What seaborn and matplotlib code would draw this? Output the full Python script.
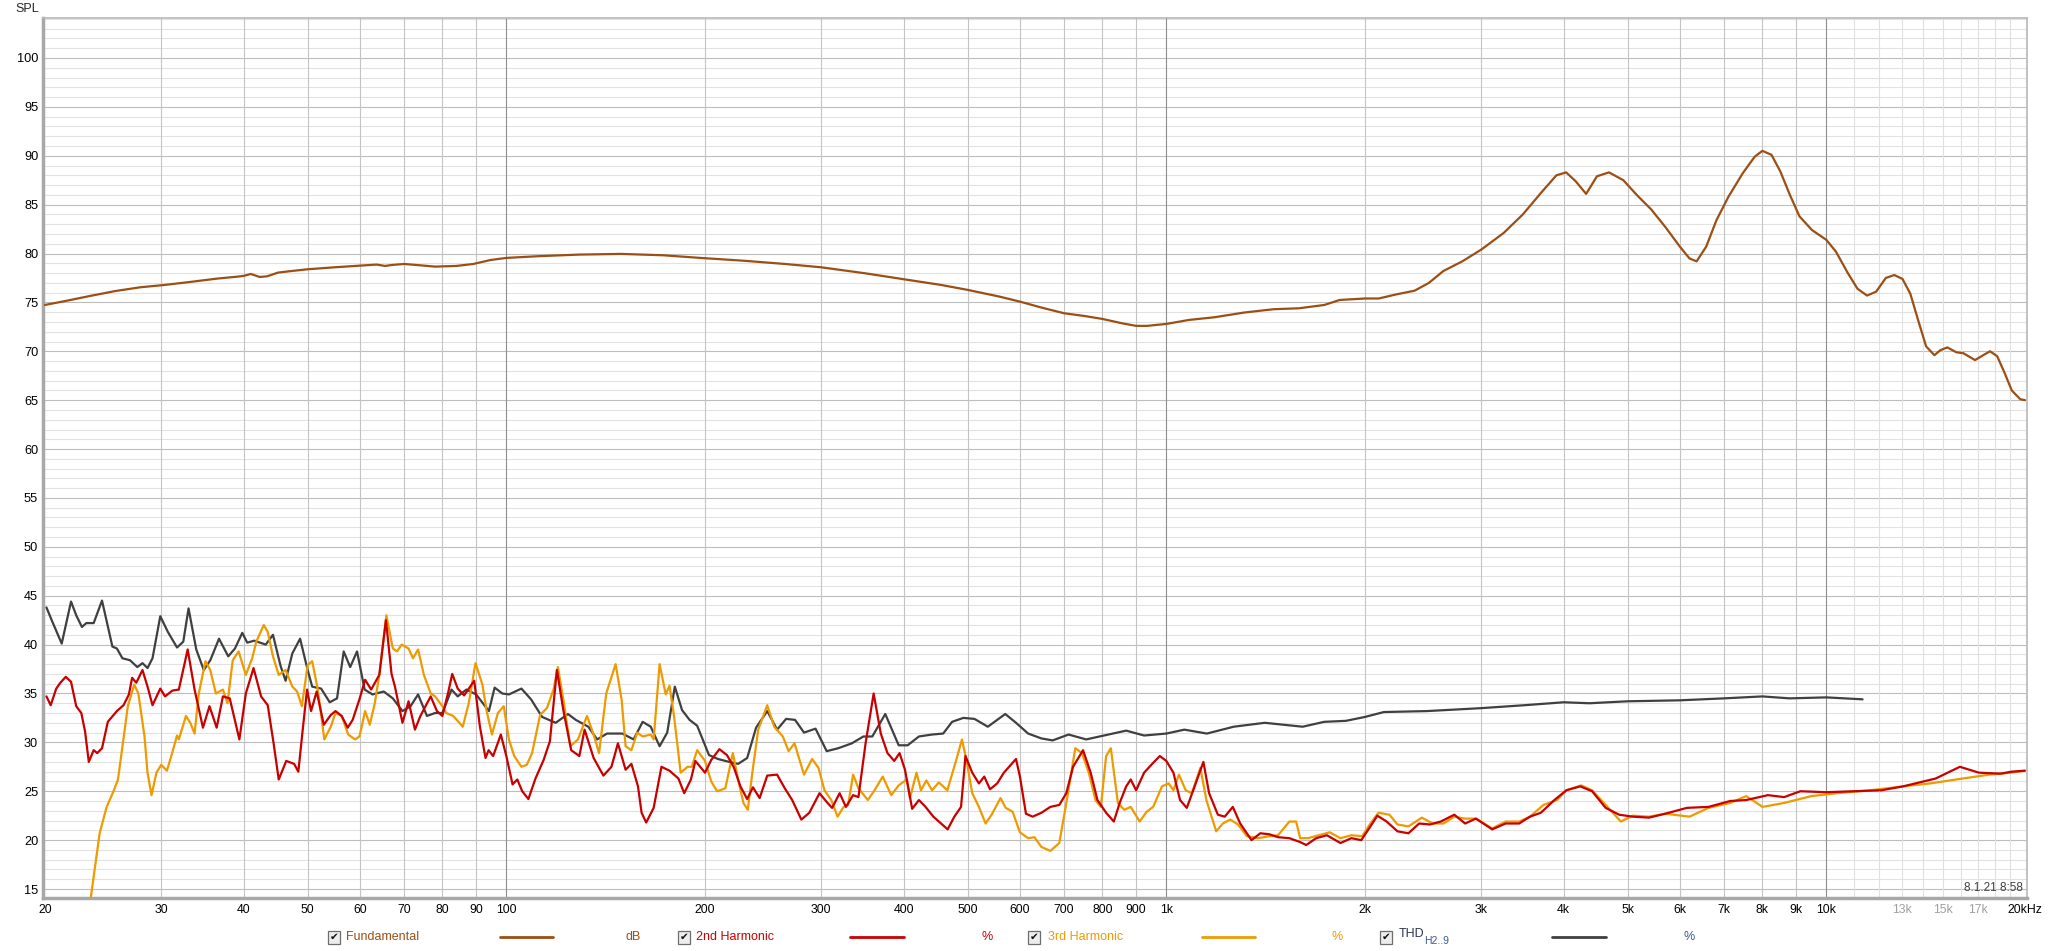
import numpy as np
import pandas as pd
import matplotlib
matplotlib.use("Agg")
import matplotlib.pyplot as plt
from matplotlib.patches import Rectangle
from matplotlib.lines import Line2D
from matplotlib.ticker import NullLocator
import seaborn as sns

# ---- data (Hz, dB / %-scale) ----
fund_freq = [20, 21.5, 23.4, 25.6, 27.9, 30, 32.9, 36.4, 39.2, 40,
             41.0, 42.3, 43.4, 45.1, 47.4, 50, 54.9, 60, 63.6, 65.5,
             67.1, 70, 73.9, 78.0, 84.0, 89.1, 94.7, 100, 111.3, 128.9,
             149.3, 172.9, 196.9, 228.2, 264.5, 300, 349.5, 400, 455.4, 500,
             559, 600, 647, 700, 750, 800, 856, 900, 935, 1000,
             1083, 1183, 1311, 1452, 1589, 1736, 1831, 2000, 2098, 2224,
             2378, 2500, 2627, 2808, 3000, 3244, 3469, 3706, 3900, 4034,
             4170, 4326, 4492, 4685, 4925, 5177, 5430, 5705, 6000, 6203,
             6360, 6576, 6815, 7106, 7469, 7788, 8000, 8258, 8517, 8806,
             9106, 9513, 10000, 10339, 10779, 11148, 11524, 11900, 12306, 12677,
             13044, 13403, 13815, 14165, 14582, 14876, 15252, 15736, 16134, 16802,
             17286, 17702, 18150, 18623, 19095, 19670, 20000]
fund_db = [74.74, 75.15, 75.66, 76.17, 76.55, 76.75, 77.06, 77.43, 77.64, 77.71,
           77.91, 77.60, 77.67, 78.05, 78.22, 78.39, 78.59, 78.76, 78.87, 78.73,
           78.83, 78.93, 78.80, 78.66, 78.73, 78.93, 79.34, 79.55, 79.72, 79.89,
           79.96, 79.82, 79.55, 79.27, 78.93, 78.59, 77.98, 77.37, 76.79, 76.28,
           75.59, 75.08, 74.47, 73.89, 73.62, 73.31, 72.87, 72.60, 72.60, 72.80,
           73.21, 73.48, 73.96, 74.30, 74.40, 74.74, 75.25, 75.4, 75.4, 75.8,
           76.2, 77.0, 78.2, 79.2, 80.4, 82.1, 84.0, 86.3, 88.0, 88.3,
           87.4, 86.1, 87.9, 88.3, 87.5, 85.9, 84.5, 82.7, 80.7, 79.5,
           79.2, 80.7, 83.4, 85.8, 88.2, 89.9, 90.5, 90.1, 88.4, 86.0,
           83.8, 82.4, 81.4, 80.2, 78.0, 76.4, 75.7, 76.1, 77.5, 77.8,
           77.4, 75.9, 72.9, 70.5, 69.6, 70.1, 70.4, 69.9, 69.8, 69.1,
           69.6, 70.0, 69.5, 67.8, 66.0, 65.1, 65.0]

h2_freq = [20.1, 20.4, 20.8, 21.1, 21.5, 21.9, 22.3, 22.7, 23.0, 23.3,
           23.7, 24.0, 24.4, 24.9, 25.7, 26.3, 26.8, 27.1, 27.5, 28.1,
           28.6, 29.1, 29.9, 30.4, 31.2, 31.9, 32.9, 33.7, 34.7, 35.5,
           36.4, 37.2, 38.1, 39.4, 40.3, 41.4, 42.5, 43.5, 44.4, 45.2,
           46.4, 47.7, 48.4, 49.2, 49.9, 50.6, 51.6, 52.9, 54.2, 55.1,
           56.3, 57.5, 58.5, 59.9, 61.1, 62.4, 64.2, 65.7, 67.0, 67.8,
           69.6, 71.1, 72.7, 74.1, 76.8, 78.5, 80.0, 81.7, 82.8, 84.4,
           86.3, 89.4, 91.2, 93.0, 94.0, 95.5, 98.1, 100, 102.2, 103.9,
           105.7, 108.0, 110.7, 113.9, 116.4, 119.3, 122.0, 125.4, 129.0, 131.4,
           135.6, 140.3, 144.3, 147.6, 151.6, 154.7, 158.3, 160.3, 162.9, 167.2,
           171.8, 176.7, 182.3, 186.0, 190.4, 193.4, 200, 204.4, 210.3, 215.9,
           221, 226.3, 231.7, 236.4, 242.0, 248.5, 257.2, 264.2, 271.1, 279.9,
           287.8, 298.2, 306.7, 311.6, 319.9, 327.0, 335.3, 341.6, 350.2, 360.2,
           369.3, 378.0, 387.0, 394.3, 401.8, 412, 421.8, 431.7, 443.6, 455.6,
           466.3, 477.3, 488.6, 496.2, 508.1, 520, 529.8, 540.6, 554.3, 567.4,
           591.9, 600, 612.8, 627.2, 646.8, 667.3, 688.4, 705.5, 722.2, 747.8,
           768, 786.3, 810.6, 832.6, 849.8, 869.4, 883.1, 900, 925.4, 955,
           977.6, 1000, 1025, 1049, 1074, 1104, 1138, 1161, 1197, 1226,
           1261, 1294, 1346, 1388, 1432, 1477, 1536, 1595, 1629, 1687,
           1751, 1836, 1907, 1974, 2038, 2088, 2157, 2240, 2327, 2416,
           2508, 2605, 2731, 2836, 2945, 3117, 3267, 3425, 3556, 3694,
           3872, 4038, 4238, 4417, 4631, 4853, 5090, 5386, 5700, 6148,
           6631, 7149, 7563, 8157, 8631, 9134, 10000, 11031, 12122, 13074,
           14641, 15935, 17026, 18366, 19070, 19990]
h2_lvl = [34.7, 33.8, 35.5, 36.1, 36.7, 36.2, 33.7, 33.0, 31.1, 28.0,
          29.2, 28.9, 29.4, 32.1, 33.2, 33.8, 34.9, 36.6, 36.1, 37.4,
          35.7, 33.8, 35.5, 34.7, 35.3, 35.4, 39.5, 35.4, 31.5, 33.7,
          31.5, 34.7, 34.5, 30.3, 35.0, 37.6, 34.7, 33.8, 29.9, 26.2,
          28.1, 27.8, 27.0, 31.6, 35.4, 33.2, 35.2, 31.8, 32.8, 33.2,
          32.7, 31.5, 32.3, 34.4, 36.4, 35.4, 36.9, 42.5, 37.0, 35.7,
          32.0, 34.2, 31.3, 32.7, 34.7, 33.2, 32.7, 35.2, 37.0, 35.5,
          34.8, 36.3, 31.6, 28.4, 29.2, 28.6, 30.8, 28.6, 25.7, 26.2,
          25.0, 24.2, 26.3, 28.2, 30.1, 37.4, 33.3, 29.2, 28.6, 31.3,
          28.4, 26.6, 27.5, 29.9, 27.2, 27.8, 25.5, 22.8, 21.8, 23.3,
          27.5, 27.1, 26.3, 24.8, 26.2, 28.1, 26.9, 28.2, 29.3, 28.7,
          27.5, 25.5, 24.2, 25.4, 24.3, 26.6, 26.7, 25.3, 24.1, 22.1,
          22.8, 24.8, 23.8, 23.3, 24.8, 23.4, 24.6, 24.4, 29.9, 35.0,
          30.9, 28.9, 28.1, 28.9, 27.2, 23.2, 24.1, 23.4, 22.4, 21.7,
          21.1, 22.4, 23.4, 28.6, 26.9, 25.8, 26.5, 25.2, 25.8, 26.9,
          28.3, 26.5, 22.7, 22.4, 22.8, 23.4, 23.6, 24.8, 27.5, 29.2,
          26.9, 24.1, 22.8, 21.9, 23.8, 25.5, 26.2, 25.1, 26.9, 27.9,
          28.6, 28.1, 26.9, 24.1, 23.3, 25.5, 28.0, 24.8, 22.6, 22.4,
          23.4, 21.7, 20.0, 20.7, 20.6, 20.3, 20.2, 19.8, 19.5, 20.2,
          20.5, 19.7, 20.2, 20.0, 21.4, 22.5, 21.9, 20.9, 20.7, 21.7,
          21.6, 21.9, 22.6, 21.7, 22.2, 21.1, 21.7, 21.7, 22.4, 22.8,
          24.1, 25.1, 25.5, 25.0, 23.3, 22.6, 22.4, 22.3, 22.7, 23.3,
          23.4, 24.0, 24.1, 24.6, 24.4, 25.0, 24.9, 25.0, 25.1, 25.5,
          26.3, 27.5, 26.9, 26.8, 27.0, 27.1]

h3_freq = [23.45, 23.9, 24.2, 24.8, 25.4, 25.8, 26.2, 26.7, 27.3, 27.7,
           28.3, 28.6, 29.0, 29.5, 30.0, 30.6, 31.1, 31.7, 31.9, 32.7,
           33.2, 33.7, 34.2, 35.0, 35.6, 36.3, 37.2, 37.8, 38.5, 39.3,
           40.3, 41.2, 41.8, 42.9, 43.5, 44.3, 45.2, 46.3, 47.4, 48.2,
           49.0, 50.0, 50.8, 51.8, 53.0, 54.2, 55.1, 56.3, 57.6, 59.0,
           59.9, 61.1, 62.1, 63.2, 64.3, 65.8, 67.3, 68.3, 69.4, 71.1,
           72.2, 73.5, 75.0, 76.8, 78.0, 80.0, 81.1, 83.1, 85.9, 87.7,
           89.8, 92.0, 93.3, 95.1, 97.1, 99.1, 100.9, 102.8, 105.4, 107.4,
           109.4, 112.5, 115.2, 117.9, 119.7, 122.0, 125.0, 128.4, 132.5, 135.6,
           138.2, 141.7, 146.4, 149.5, 151.6, 154.7, 157.9, 160.9, 165.5, 167.2,
           170.7, 174.4, 176.7, 179.5, 183.7, 188.2, 191.0, 194.6, 200.0, 204.4,
           208.6, 214.7, 220.4, 224.5, 228.7, 232.2, 235.9, 240.8, 248.5, 254.6,
           262.4, 267.7, 273.3, 282.5, 290.6, 297.1, 303.4, 310.7, 317.6, 324.4,
           329.5, 335.3, 341.6, 353.0, 361.3, 371.8, 383.0, 393.1, 404.3, 408.8,
           418.3, 424.8, 432.9, 441.6, 452.1, 465.8, 481.0, 490.2, 497.9, 508.1,
           520.0, 532.3, 543.6, 560.7, 571.0, 585.0, 600.0, 617.5, 631.0, 646.8,
           667.3, 688.4, 705.5, 727.9, 745.0, 763.0, 781.0, 795.7, 810.6, 824.0,
           844.5, 863.6, 883.1, 911.3, 933.6, 955.0, 985.0, 1008, 1025, 1045,
           1070, 1093, 1126, 1150, 1190, 1218, 1250, 1284, 1325, 1378,
           1432, 1477, 1536, 1573, 1595, 1640, 1703, 1768, 1836, 1907,
           1981, 2038, 2096, 2178, 2240, 2327, 2438, 2533, 2630, 2731,
           2836, 2945, 3117, 3267, 3425, 3556, 3727, 3909, 4038, 4254,
           4417, 4631, 4883, 5090, 5386, 5700, 6206, 6631, 7149, 7563,
           8005, 8631, 9486, 10384, 11674, 13074, 14368, 16086, 17680, 19070,
           19990]
h3_lvl = [14.0, 18.0, 20.7, 23.4, 25.0, 26.2, 29.6, 33.7, 35.9, 35.0,
          30.6, 26.9, 24.6, 26.9, 27.7, 27.1, 28.7, 30.7, 30.3, 32.7,
          32.0, 30.9, 35.0, 38.3, 37.4, 35.0, 35.4, 34.0, 38.4, 39.3,
          36.9, 38.6, 40.3, 42.0, 41.3, 38.8, 36.9, 37.4, 35.7, 35.2,
          33.7, 37.9, 38.3, 35.4, 30.3, 31.6, 33.0, 32.7, 30.8, 30.3,
          30.6, 33.2, 31.8, 34.0, 37.2, 43.0, 39.6, 39.3, 40.0, 39.6,
          38.6, 39.5, 36.9, 35.0, 34.7, 33.7, 33.0, 32.7, 31.6, 34.0,
          38.1, 35.9, 33.3, 30.8, 33.0, 33.7, 30.3, 28.6, 27.5, 27.7,
          28.9, 32.8, 33.5, 35.4, 37.7, 34.4, 29.6, 30.3, 32.7, 30.8,
          28.9, 35.0, 38.0, 34.4, 29.6, 29.2, 31.0, 30.6, 30.8, 30.3,
          38.0, 34.9, 35.8, 32.7, 26.9, 27.5, 27.5, 29.2, 28.1, 26.0,
          25.0, 25.3, 28.9, 26.2, 23.8, 23.1, 26.9, 31.3, 33.8, 31.6,
          30.6, 29.1, 29.9, 26.7, 28.3, 27.4, 25.1, 24.1, 22.4, 23.4,
          23.6, 26.7, 25.3, 24.1, 25.1, 26.5, 24.6, 25.6, 26.2, 24.3,
          26.9, 25.1, 26.1, 25.1, 25.9, 25.1, 28.3, 30.3, 28.2, 24.8,
          23.4, 21.7, 22.6, 24.3, 23.3, 22.9, 20.8, 20.2, 20.3, 19.3,
          18.9, 19.7, 23.8, 29.4, 28.9, 26.9, 24.1, 23.4, 28.6, 29.4,
          23.8, 23.1, 23.4, 21.9, 22.9, 23.4, 25.5, 25.8, 25.1, 26.7,
          25.1, 24.8, 27.4, 24.1, 20.9, 21.7, 22.1, 21.6, 20.4, 20.2,
          20.4, 20.5, 21.9, 21.9, 20.2, 20.2, 20.5, 20.8, 20.2, 20.5,
          20.4, 21.7, 22.8, 22.6, 21.6, 21.4, 22.3, 21.7, 21.7, 22.4,
          22.2, 22.2, 21.2, 21.9, 21.9, 22.4, 23.6, 24.1, 25.1, 25.6,
          25.1, 23.6, 21.9, 22.5, 22.4, 22.7, 22.4, 23.3, 23.8, 24.5,
          23.4, 23.8, 24.5, 24.8, 25.1, 25.5, 25.8, 26.3, 26.7, 26.9,
          27.1]

thd_freq = [20.1, 20.5, 21.2, 21.9, 22.3, 22.75, 23.1, 23.7, 24.4, 25.3,
            25.7, 26.2, 26.9, 27.6, 28.1, 28.6, 29.1, 29.9, 30.7, 31.7,
            32.4, 33.0, 33.9, 34.8, 35.6, 36.7, 37.9, 38.8, 39.8, 40.5,
            41.5, 43.2, 44.3, 45.5, 46.3, 47.4, 48.7, 50.0, 50.8, 52.4,
            54.0, 55.4, 56.7, 58.0, 59.4, 61.0, 62.7, 65.2, 67.3, 69.6,
            71.6, 73.5, 75.8, 78.0, 80.0, 82.6, 84.4, 87.0, 90.0, 94.1,
            96.0, 98.6, 100.9, 105.4, 109.0, 113.3, 118.8, 124.0, 127.4, 133.1,
            137.3, 142.1, 149.9, 155.9, 160.9, 165.5, 170.7, 175.3, 180.0, 184.6,
            189.5, 194.6, 202.8, 209.2, 217.6, 224.5, 231.7, 239, 248.5, 257.2,
            265.4, 273.8, 282.5, 294.1, 305.8, 318.4, 333.8, 347.5, 358.5, 375.1,
            393.1, 405.6, 421.8, 441.6, 459.1, 473.6, 492.5, 512, 536.5, 570.1,
            591.9, 617.5, 646.8, 672.6, 711, 756.1, 804.5, 869.4, 925.4, 1000,
            1065, 1152, 1265, 1410, 1609, 1735, 1871, 2000, 2136, 2485,
            3000, 3490, 4000, 4376, 5000, 6000, 7000, 8000, 8797, 10000,
            11348]
thd_lvl = [43.8, 42.4, 40.1, 44.4, 43.0, 41.8, 42.2, 42.2, 44.5, 39.8,
           39.6, 38.6, 38.4, 37.7, 38.1, 37.6, 38.6, 42.9, 41.3, 39.7,
           40.3, 43.7, 39.5, 37.4, 38.4, 40.6, 38.8, 39.6, 41.2, 40.2,
           40.4, 40.0, 41.0, 37.8, 36.3, 39.1, 40.6, 37.4, 35.7, 35.5,
           34.1, 34.5, 39.3, 37.7, 39.3, 35.4, 34.9, 35.2, 34.5, 33.2,
           33.7, 34.9, 32.7, 33.0, 33.0, 35.4, 34.7, 35.4, 34.9, 33.2,
           35.6, 35.0, 34.9, 35.5, 34.4, 32.6, 32.0, 32.9, 32.3, 31.6,
           30.3, 30.9, 30.9, 30.3, 32.1, 31.6, 29.6, 31.0, 35.7, 33.3,
           32.3, 31.7, 28.7, 28.3, 28.0, 27.8, 28.4, 31.5, 33.2, 31.3,
           32.4, 32.3, 31.0, 31.4, 29.1, 29.4, 29.9, 30.6, 30.6, 32.9,
           29.7, 29.7, 30.6, 30.8, 30.9, 32.1, 32.5, 32.4, 31.6, 32.9,
           32.0, 30.9, 30.4, 30.2, 30.8, 30.3, 30.7, 31.2, 30.7, 30.9,
           31.3, 30.9, 31.6, 32.0, 31.6, 32.1, 32.2, 32.6, 33.1, 33.2,
           33.5, 33.8, 34.1, 34.0, 34.2, 34.3, 34.5, 34.7, 34.5, 34.6,
           34.4]

xtick_vals = [20, 30, 40, 50, 60, 70, 80, 90, 100, 200, 300, 400, 500, 600, 700, 800, 900,
              1000, 2000, 3000, 4000, 5000, 6000, 7000, 8000, 9000, 10000, 13000, 15000, 17000, 20000]
xtick_labels = ["20", "30", "40", "50", "60", "70", "80", "90", "100", "200", "300", "400", "500",
                "600", "700", "800", "900", "1k", "2k", "3k", "4k", "5k", "6k", "7k", "8k", "9k",
                "10k", "13k", "15k", "17k", "20kHz"]
ytick_vals = list(range(15, 101, 5))

C_FUND = "#9C4F14"
C_H2 = "#C80000"
C_H3 = "#EE9A00"
C_THD = "#404040"

# ---- long table for seaborn ----
df = pd.concat([
    pd.DataFrame({"freq": thd_freq, "level": thd_lvl, "trace": "THD"}),
    pd.DataFrame({"freq": h3_freq, "level": h3_lvl, "trace": "3rd Harmonic"}),
    pd.DataFrame({"freq": h2_freq, "level": h2_lvl, "trace": "2nd Harmonic"}),
    pd.DataFrame({"freq": fund_freq, "level": fund_db, "trace": "Fundamental"}),
], ignore_index=True)

sns.set_style("white")
plt.rcParams["font.family"] = ["Liberation Sans", "DejaVu Sans"]
plt.rcParams["lines.solid_joinstyle"] = "round"
plt.rcParams["lines.solid_capstyle"] = "round"

W, H = 2048, 951
fig = plt.figure(figsize=(W / 100, H / 100), dpi=100)
ax = fig.add_axes([43 / W, 1 - 898 / H, (2027 - 43) / W, (898 - 18) / H])
ax.set_xscale("log")

# grid
for v in np.arange(15, 105, 1):
    ax.axhline(v, color="#BDBDBD" if v % 5 == 0 else "#E2E2E2", lw=0.8, zorder=0)
for f in [30, 40, 50, 60, 70, 80, 90, 200, 300, 400, 500, 600, 700, 800, 900,
          2000, 3000, 4000, 5000, 6000, 7000, 8000, 9000]:
    ax.axvline(f, color="#C4C4C4", lw=0.8, zorder=0)
for f in [100, 1000, 10000]:
    ax.axvline(f, color="#8E8E8E", lw=0.8, zorder=0)
for f in range(11000, 20000, 1000):
    ax.axvline(f, color="#E0E0E0", lw=0.8, zorder=0)

palette = {"THD": C_THD, "3rd Harmonic": C_H3, "2nd Harmonic": C_H2, "Fundamental": C_FUND}
sns.lineplot(data=df, x="freq", y="level", hue="trace", palette=palette,
             hue_order=["THD", "3rd Harmonic", "2nd Harmonic", "Fundamental"],
             estimator=None, sort=False, linewidth=1.6, legend=False, ax=ax, zorder=3)

ax.set_xlim(19.86, 20140)
ax.set_ylim(14.08, 104.09)
ax.minorticks_off()
ax.xaxis.set_minor_locator(NullLocator())
ax.set_xticks(xtick_vals)
ax.set_xticklabels(xtick_labels)
ax.set_yticks(ytick_vals)
ax.set_yticklabels([str(v) for v in ytick_vals])
ax.tick_params(axis="both", length=0, colors="black")
ax.tick_params(axis="x", pad=4, labelsize=8.8)
ax.tick_params(axis="y", pad=3.5, labelsize=9.2)
for lab in ax.get_xticklabels():
    if lab.get_text() in ("13k", "15k", "17k"):
        lab.set_color("#A0A0A0")
ax.set_xlabel("")
ax.set_ylabel("")

for side in ("left", "bottom"):
    ax.spines[side].set_color("#A8A8A8")
    ax.spines[side].set_linewidth(2.5)
for side in ("top", "right"):
    ax.spines[side].set_color("#B8B8B8")
    ax.spines[side].set_linewidth(1.2)

fig.text(15 / W, 1 - 9 / H, "SPL", fontsize=9, ha="left", va="center")
ax.text(0.998, 0.011, "8.1.21 8:58", transform=ax.transAxes, fontsize=8.5,
        ha="right", va="center", color="#404040")

# ---- bottom legend strip ----
ly = 1 - 937 / H


def checkbox(x0):
    fig.add_artist(Rectangle((x0 / W, ly - 6.5 / H), 12 / W, 13 / H, transform=fig.transFigure,
                             facecolor="#EDEDED", edgecolor="#6E6E6E", lw=0.9))
    fig.text((x0 + 6) / W, ly, "\u2714", family="DejaVu Sans", fontsize=7.5,
             ha="center", va="center", color="#111111")


def legline(x1, x2, c):
    fig.add_artist(Line2D([x1 / W, x2 / W], [ly, ly], transform=fig.transFigure, color=c, lw=2))


checkbox(328)
fig.text(346 / W, ly, "Fundamental", color=C_FUND, fontsize=9, va="center")
legline(500, 553, C_FUND)
fig.text(626 / W, ly, "dB", color=C_FUND, fontsize=9, va="center")

checkbox(678)
fig.text(696 / W, ly, "2nd Harmonic", color=C_H2, fontsize=9, va="center")
legline(850, 904, C_H2)
fig.text(981 / W, ly, "%", color=C_H2, fontsize=9, va="center")

checkbox(1028)
fig.text(1048 / W, ly, "3rd Harmonic", color=C_H3, fontsize=9, va="center")
legline(1202, 1255, C_H3)
fig.text(1332 / W, ly, "%", color=C_H3, fontsize=9, va="center")

checkbox(1380)
fig.text(1399 / W, ly + 3 / H, "THD", color="#2E3550", fontsize=9, va="center")
fig.text(1424 / W, ly - 4 / H, "H2..9", color="#3A5890", fontsize=7.5, va="center")
legline(1552, 1606, C_THD)
fig.text(1683 / W, ly, "%", color="#3A5890", fontsize=9, va="center")

fig.savefig("out.png", dpi=100)
